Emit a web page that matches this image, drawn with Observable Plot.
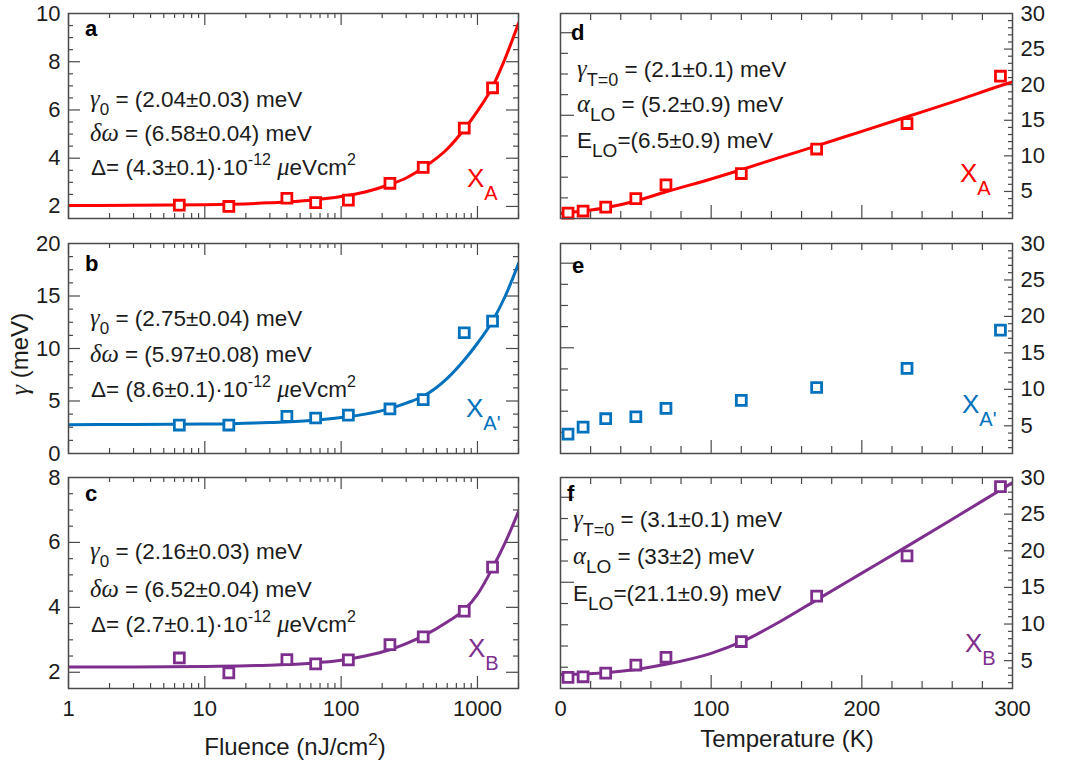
<!DOCTYPE html>
<html>
<head>
<meta charset="utf-8">
<script src="https://cdn.jsdelivr.net/npm/d3@7"></script>
<script src="https://cdn.jsdelivr.net/npm/@observablehq/plot@0.6"></script>
<style>
  body { margin: 0; background: #fff; }
  #fig { position: relative; width: 1067px; height: 767px; background: #fff; }
  #fig svg { position: absolute; overflow: visible; }
  #fig text { white-space: pre; }
</style>
</head>
<body>
<div id="fig"></div>
<script>
// ---- measured linewidths: fluence series (nJ/cm^2) ----
const fluence = [6.5, 15, 40, 65, 113, 228, 400, 800, 1290];
const gammaA_F = [2.05, 2.0, 2.34, 2.16, 2.26, 2.96, 3.62, 5.25, 6.92];
const gammaA2_F = [2.71, 2.71, 3.54, 3.38, 3.66, 4.24, 5.13, 11.5, 12.61];
const gammaB_F = [2.44, 1.98, 2.39, 2.26, 2.38, 2.85, 3.09, 3.88, 5.24];

// fitted curves versus fluence
const fitFluence = [1, 3, 10, 30, 60, 100, 150, 230, 300, 400, 600, 800, 1000, 1300, 1600, 2000];
const fitA_F = [2.04, 2.05, 2.07, 2.15, 2.26, 2.41, 2.6, 2.92, 3.18, 3.6, 4.38, 5.2, 5.95, 7.0, 8.15, 9.6];
const fitA2_F = [2.75, 2.76, 2.8, 2.95, 3.15, 3.42, 3.75, 4.3, 4.8, 5.45, 7.15, 8.9, 10.5, 12.7, 15.0, 18.1];
const fitB_F = [2.16, 2.16, 2.18, 2.22, 2.28, 2.37, 2.5, 2.7, 2.88, 3.12, 3.55, 3.92, 4.4, 5.24, 6.0, 6.95];

// ---- measured linewidths: temperature series (K) ----
const temperature = [5, 15, 30, 50, 70, 120, 170, 230, 292];
const gammaA_T = [1.97, 2.25, 2.8, 3.99, 5.92, 7.52, 10.96, 14.54, 21.19];
const gammaA2_T = [3.85, 4.82, 5.97, 6.24, 7.39, 8.49, 10.25, 12.87, 18.12];
const gammaB_T = [2.71, 2.8, 3.3, 4.4, 5.46, 7.61, 13.81, 19.31, 28.76];

// fitted curves versus temperature
const fitTemperature = [0, 15, 30, 50, 70, 100, 120, 145, 170, 200, 230, 260, 292, 300];
const fitA_T = [1.9, 2.25, 2.7, 3.65, 4.95, 6.75, 8.05, 9.75, 11.4, 13.45, 15.5, 17.55, 19.85, 20.4];
const fitB_T = [3.12, 3.17, 3.35, 3.8, 4.5, 6.0, 7.55, 10.25, 13.3, 16.95, 20.6, 24.3, 28.3, 29.3];

// fit parameters printed in the panels
const gamma0Fit = ["2.04±0.03", "2.75±0.04", "2.16±0.03"];
const deltaOmegaFit = ["6.58±0.04", "5.97±0.08", "6.52±0.04"];
const deltaFit = ["4.3±0.1", "8.6±0.1", "2.7±0.1"];
const gammaT0Fit = ["2.1±0.1", "3.1±0.1"];
const alphaLOFit = ["5.2±0.9", "33±2"];
const eLOFit = ["6.5±0.9", "21.1±0.9"];

// tick labels
const fluenceTicks = [1, 10, 100, 1000];
const temperatureTicks = [0, 100, 200, 300];
const yTicksA = [2, 4, 6, 8, 10];
const yTicksA2 = [0, 5, 10, 15, 20];
const yTicksB = [2, 4, 6, 8];
const yTicksRight = [5, 10, 15, 20, 25, 30];
// secondary (unlabelled) ticks on the inner left edge of the temperature panels
const rightPanelLeftTicks = [4.1, 7.0, 9.9, 12.8, 15.7, 18.6, 21.5, 24.4, 27.3];
const rightPanelLeftLong = [15.7, 27.3];

const RED = "#ff0000", BLUE = "#0072bd", PURPLE = "#7e2f8e";
const AXIS = "#4a4a4a", INK = "#1c1c1c";
const SANS = '"Liberation Sans", Arial, Helvetica, sans-serif';
const SERIF = '"Liberation Serif", "DejaVu Serif", serif';
const TICK_FONT = 22, NOTE_FONT = 22.5, TITLE_FONT = 24;

const fig = document.getElementById("fig");

const COLS = {
  left: {left: 0, width: 530, marginLeft: 68, marginRight: 12},
  right: {left: 530, width: 537, marginLeft: 30, marginRight: 55}
};
const ROWS = [
  {top: 0, marginTop: 13, frame: 205, marginBottom: 8},
  {top: 235, marginTop: 8, frame: 210, marginBottom: 8},
  {top: 469, marginTop: 8, frame: 211, marginBottom: 79}
];

const logMinor = [1, 10, 100, 1000].flatMap(d => d3.range(2, 10).map(k => k * d)).filter(v => v <= 2000);
const tempMinor = d3.range(20, 300, 20);

function minorTicks(domain, step, majors) {
  const out = [];
  const start = Math.ceil(domain[0] / step) * step;
  for (let v = start; v < domain[1] - 1e-9; v += step) {
    const r = +v.toFixed(4);
    if (r > domain[0] + 1e-9 && !majors.includes(r)) out.push(r);
  }
  return out;
}

function makePanel(cfg) {
  const col = COLS[cfg.col], row = ROWS[cfg.row];
  const width = col.width;
  const height = row.marginTop + row.frame + row.marginBottom;
  const fw = width - col.marginLeft - col.marginRight;
  const fh = row.frame;
  const isLeft = cfg.col === "left";
  const bottom = cfg.row === 2;
  const tk = {stroke: AXIS, strokeWidth: 1.2};
  const sideY = (values, len, side) =>
    Plot.tickY(values, {y: d => d, ...(side === "left" ? {insetRight: fw - len} : {insetLeft: fw - len}), ...tk});
  const sideX = (values, len, side) =>
    Plot.tickX(values, {x: d => d, ...(side === "top" ? {insetBottom: fh - len} : {insetTop: fh - len}), ...tk});

  const points = cfg.xs.map((x, i) => ({x, y: cfg.ys[i]}));
  const marks = [];

  // inward ticks along x
  if (isLeft) {
    for (const side of ["top", "bottom"]) {
      marks.push(sideX(fluenceTicks, 12, side), sideX(logMinor, 5, side));
    }
  } else {
    marks.push(sideX(tempMinor, 7, "top"));
    marks.push(sideX(tempMinor.filter(d => d % 100), 7, "bottom"), sideX([100, 200], 13, "bottom"));
  }
  // inward ticks along y
  if (isLeft) {
    const minors = minorTicks(cfg.yDomain, cfg.yMinorStep, cfg.yLabels);
    const majors = cfg.yLabels.filter(d => d > cfg.yDomain[0] && d < cfg.yDomain[1]);
    for (const side of ["left", "right"]) marks.push(sideY(minors, 5, side), sideY(majors, 12, side));
  } else {
    const minors = d3.range(2, 30).filter(d => d % 5);
    marks.push(sideY(minors, 4, "right"), sideY(yTicksRight.filter(d => d < 30), 8, "right"));
    marks.push(sideY(rightPanelLeftTicks.filter(d => !rightPanelLeftLong.includes(d)), 8, "left"),
               sideY(rightPanelLeftLong, 14, "left"));
  }
  // tick labels
  marks.push(Plot.axisY({
    anchor: isLeft ? "left" : "right", ticks: isLeft ? cfg.yLabels : yTicksRight,
    tickSize: 0, tickPadding: 8, fontSize: TICK_FONT, fill: INK, label: null, tickFormat: d => String(d)
  }));
  if (bottom) {
    marks.push(Plot.axisX({
      anchor: "bottom", ticks: isLeft ? fluenceTicks : temperatureTicks,
      tickSize: 0, tickPadding: 12, fontSize: TICK_FONT, fill: INK, label: null, tickFormat: d => String(d)
    }));
  }
  // fit curve and data
  if (cfg.fitX) {
    const fit = cfg.fitX.map((x, i) => ({x, y: cfg.fitY[i]}));
    marks.push(Plot.line(fit, {x: "x", y: "y", stroke: cfg.color, strokeWidth: 3, curve: "monotone-x", clip: true}));
  }
  marks.push(Plot.dot(points, {x: "x", y: "y", symbol: "square", r: 5.6, stroke: cfg.color, strokeWidth: 2.8, fill: "white"}));
  marks.push(Plot.frame({stroke: AXIS, strokeWidth: 1.5}));

  const svg = Plot.plot({
    width, height,
    marginLeft: col.marginLeft, marginRight: col.marginRight,
    marginTop: row.marginTop, marginBottom: row.marginBottom,
    x: isLeft ? {type: "log", domain: [1, 2000], axis: null} : {type: "linear", domain: [0, 300], axis: null},
    y: {domain: cfg.yDomain, axis: null},
    style: {fontFamily: SANS, fontSize: TICK_FONT + "px", color: INK, background: "transparent", overflow: "visible"},
    marks
  });
  svg.style.left = col.left + "px";
  svg.style.top = row.top + "px";
  fig.appendChild(svg);
  return {svg, ox: col.left, oy: row.top};
}

// rich text with sub/superscripts and italic Greek letters (positions given in page pixels)
function rich(panel, x, y, parts, {size = NOTE_FONT, anchor = "start", fill = INK, weight = null, rotate = null} = {}) {
  const lx = x - panel.ox, ly = y - panel.oy;
  const t = d3.select(panel.svg).append("text")
    .attr("x", lx).attr("y", ly)
    .attr("font-family", SANS).attr("font-size", size)
    .attr("fill", fill).attr("text-anchor", anchor);
  if (weight) t.attr("font-weight", weight);
  if (rotate != null) t.attr("transform", `rotate(${rotate} ${lx} ${ly})`);
  let shift = 0;
  for (const p of parts) {
    const part = typeof p === "string" ? {text: p} : p;
    const s = t.append("tspan").text(part.text);
    const target = part.shift || 0;
    if (target !== shift) { s.attr("dy", target - shift); shift = target; }
    if (part.size) s.attr("font-size", part.size);
    if (part.greek) s.attr("font-family", SERIF).attr("font-style", "italic").attr("font-size", part.size || size + 2);
  }
  return t;
}
const greek = text => ({text, greek: true});
const sub = (text, size = 17, shift = 8) => ({text, size, shift});
const sup = (text, size = 16, shift = -10) => ({text, size, shift});

const panels = [
  {col: "left", row: 0, color: RED, xs: fluence, ys: gammaA_F, fitX: fitFluence, fitY: fitA_F,
   yDomain: [1.5, 10], yLabels: yTicksA, yMinorStep: 0.5},
  {col: "left", row: 1, color: BLUE, xs: fluence, ys: gammaA2_F, fitX: fitFluence, fitY: fitA2_F,
   yDomain: [0, 20], yLabels: yTicksA2, yMinorStep: 1.25},
  {col: "left", row: 2, color: PURPLE, xs: fluence, ys: gammaB_F, fitX: fitFluence, fitY: fitB_F,
   yDomain: [1.5, 8], yLabels: yTicksB, yMinorStep: 0.5},
  {col: "right", row: 0, color: RED, xs: temperature, ys: gammaA_T, fitX: fitTemperature, fitY: fitA_T,
   yDomain: [1.2, 30]},
  {col: "right", row: 1, color: BLUE, xs: temperature, ys: gammaA2_T,
   yDomain: [1.2, 30]},
  {col: "right", row: 2, color: PURPLE, xs: temperature, ys: gammaB_T, fitX: fitTemperature, fitY: fitB_T,
   yDomain: [1.2, 30]}
].map(makePanel);

// panel letters
const letters = [["a", 85, 36], ["b", 85, 271], ["c", 85, 501], ["d", 571, 40], ["e", 572, 273], ["f", 567, 501]];
letters.forEach(([l, x, y], i) => rich(panels[i], x, y, [l], {size: 22, weight: "bold", fill: "#000"}));

// fluence-fit parameters
const leftLines = [[107, 141, 175], [326, 362, 397], [559, 597, 632]];
leftLines.forEach(([y1, y2, y3], i) => {
  const p = panels[i];
  rich(p, 90, y1, [greek("γ"), sub("0"), ` = (${gamma0Fit[i]}) meV`]);
  rich(p, 90, y2, [greek("δω"), ` = (${deltaOmegaFit[i]}) meV`]);
  rich(p, 91, y3, [`Δ= (${deltaFit[i]})·10`, sup("-12"), {text: " "}, greek("μ"), "eVcm", sup("2")]);
});

// temperature-fit parameters
const rightLines = [{panel: 3, x: 577, ys: [77, 112, 148]}, {panel: 5, x: 573, ys: [527, 564, 601]}];
rightLines.forEach(({panel, x, ys}, i) => {
  const p = panels[panel];
  rich(p, x, ys[0], [greek("γ"), sub("T=0", 18, 9), ` = (${gammaT0Fit[i]}) meV`]);
  rich(p, x, ys[1], [greek("α"), sub("LO", 19, 9), ` = (${alphaLOFit[i]}) meV`]);
  rich(p, x, ys[2], ["E", sub("LO", 19, 9), `=(${eLOFit[i]}) meV`]);
});

// exciton labels
const excitons = [
  [0, 467, 187, "A", RED], [1, 466, 417, "A'", BLUE], [2, 468, 657, "B", PURPLE],
  [3, 960, 182, "A", RED], [4, 962, 413, "A'", BLUE], [5, 965, 652, "B", PURPLE]
];
excitons.forEach(([i, x, y, s, c]) => rich(panels[i], x, y, ["X", sub(s, 20, 13)], {size: 26, fill: c}));

// axis titles
rich(panels[1], 28, 354, [greek("γ"), " (meV)"], {size: TITLE_FONT, anchor: "middle", rotate: -90});
rich(panels[2], 295, 755, ["Fluence (nJ/cm", sup("2", 17, -10), {text: ")", shift: 0}], {size: TITLE_FONT, anchor: "middle"});
rich(panels[5], 787, 747, ["Temperature (K)"], {size: TITLE_FONT, anchor: "middle"});
</script>
</body>
</html>
